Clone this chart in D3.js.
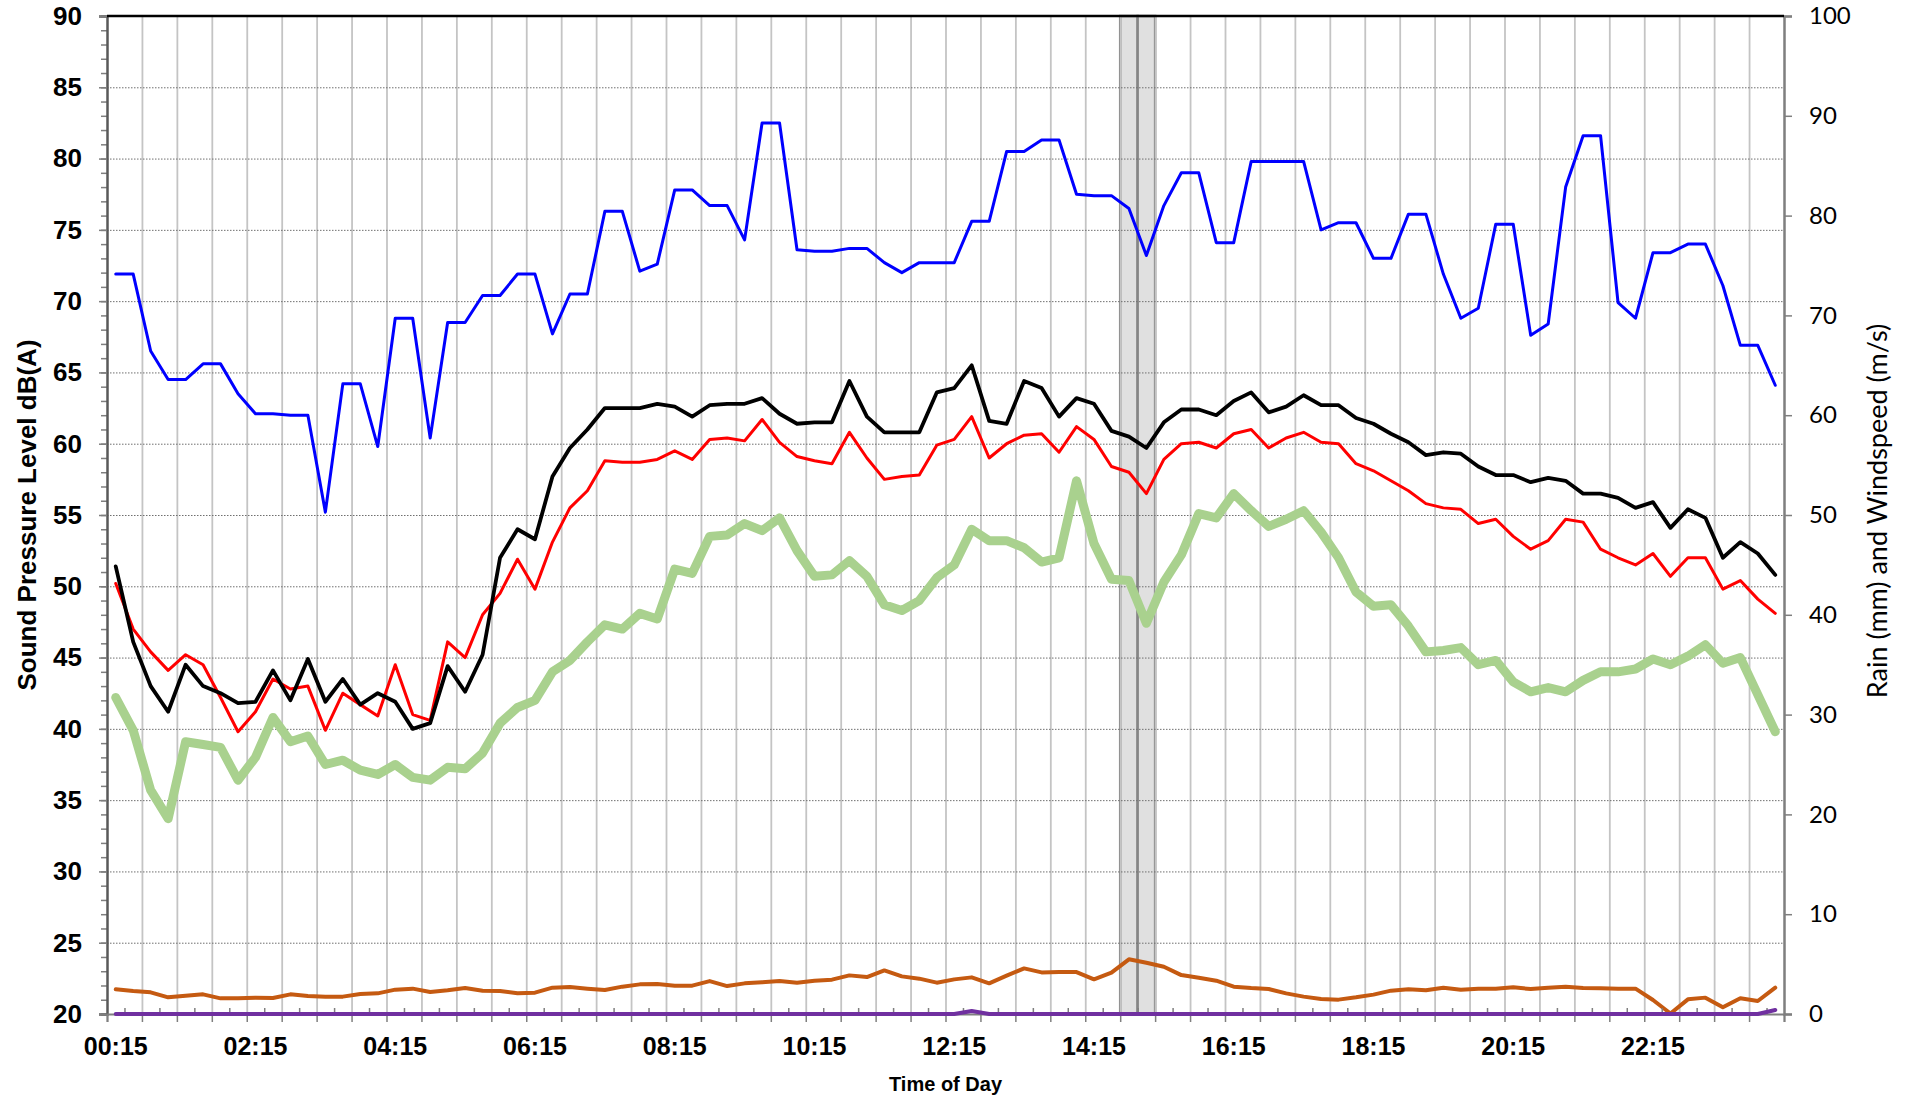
<!DOCTYPE html>
<html>
<head>
<meta charset="utf-8">
<script src="https://cdn.jsdelivr.net/npm/d3@7"></script>
<style>
  body { margin: 0; background: #fff; }
  svg { display: block; }
  .left text, .bottom text { font-family: "Liberation Sans", Arial, sans-serif; font-weight: bold; fill: #000; }
  .right text { font-family: Lato, "Open Sans", sans-serif; fill: #000; }
</style>
</head>
<body>
<div id="chart"></div>
<script>
// 15 minute intervals over one day
var times = ["00:15","00:30","00:45","01:00","01:15","01:30","01:45","02:00",
  "02:15","02:30","02:45","03:00","03:15","03:30","03:45","04:00",
  "04:15","04:30","04:45","05:00","05:15","05:30","05:45","06:00",
  "06:15","06:30","06:45","07:00","07:15","07:30","07:45","08:00",
  "08:15","08:30","08:45","09:00","09:15","09:30","09:45","10:00",
  "10:15","10:30","10:45","11:00","11:15","11:30","11:45","12:00",
  "12:15","12:30","12:45","13:00","13:15","13:30","13:45","14:00",
  "14:15","14:30","14:45","15:00","15:15","15:30","15:45","16:00",
  "16:15","16:30","16:45","17:00","17:15","17:30","17:45","18:00",
  "18:15","18:30","18:45","19:00","19:15","19:30","19:45","20:00",
  "20:15","20:30","20:45","21:00","21:15","21:30","21:45","22:00",
  "22:15","22:30","22:45","23:00","23:15","23:30","23:45","24:00"]

var timeLabels = ["00:15","02:15","04:15","06:15","08:15","10:15","12:15","14:15","16:15","18:15","20:15","22:15"]

// sound levels, dB(A)
var laMax = [71.9,71.9,66.5,64.5,64.5,65.6,65.6,63.5,62.1,62.1,62.0,62.0,55.2,64.2,64.2,59.8,
  68.8,68.8,60.4,68.5,68.5,70.4,70.4,71.9,71.9,67.7,70.5,70.5,76.3,76.3,72.1,72.6,
  77.8,77.8,76.7,76.7,74.3,82.5,82.5,73.6,73.5,73.5,73.7,73.7,72.7,72.0,72.7,72.7,
  72.7,75.6,75.6,80.5,80.5,81.3,81.3,77.5,77.4,77.4,76.5,73.2,76.7,79.0,79.0,74.1,
  74.1,79.8,79.8,79.8,79.8,75.0,75.5,75.5,73.0,73.0,76.1,76.1,71.9,68.8,69.5,75.4,
  75.4,67.6,68.4,78.0,81.6,81.6,69.9,68.8,73.4,73.4,74.0,74.0,71.1,66.9,66.9,64.1]

var laEq = [51.4,46.1,43.0,41.2,44.5,43.0,42.5,41.8,41.9,44.1,42.0,44.9,41.9,43.5,41.7,42.5,
  41.9,40.0,40.4,44.4,42.6,45.2,52.0,54.0,53.3,57.7,59.7,61.0,62.5,62.5,62.5,62.8,
  62.6,61.9,62.7,62.8,62.8,63.2,62.1,61.4,61.5,61.5,64.4,61.9,60.8,60.8,60.8,63.6,
  63.9,65.5,61.6,61.4,64.4,63.9,61.9,63.2,62.8,60.9,60.5,59.7,61.5,62.4,62.4,62.0,
  63.0,63.6,62.2,62.6,63.4,62.7,62.7,61.8,61.4,60.7,60.1,59.2,59.4,59.3,58.4,57.8,
  57.8,57.3,57.6,57.4,56.5,56.5,56.2,55.5,55.9,54.1,55.4,54.8,52.0,53.1,52.3,50.8]

var la10 = [50.2,47.0,45.4,44.1,45.2,44.5,42.2,39.8,41.2,43.5,42.8,43.0,39.9,42.5,41.7,40.9,
  44.5,41.0,40.6,46.1,45.0,48.0,49.5,51.9,49.8,53.1,55.5,56.7,58.8,58.7,58.7,58.9,
  59.5,58.9,60.3,60.4,60.2,61.7,60.1,59.1,58.8,58.6,60.8,59.0,57.5,57.7,57.8,59.9,
  60.3,61.9,59.0,60.0,60.6,60.7,59.4,61.2,60.3,58.4,58.0,56.5,58.9,60.0,60.1,59.7,
  60.7,61.0,59.7,60.4,60.8,60.1,60.0,58.6,58.1,57.4,56.7,55.8,55.5,55.4,54.4,54.7,
  53.5,52.6,53.2,54.7,54.5,52.6,52.0,51.5,52.3,50.7,52.0,52.0,49.8,50.4,49.1,48.1]

var la90 = [42.2,39.9,35.7,33.7,39.1,38.9,38.7,36.4,38.0,40.8,39.1,39.5,37.5,37.8,37.1,36.8,
  37.5,36.6,36.4,37.3,37.2,38.3,40.4,41.5,42.0,44.0,44.8,46.1,47.3,47.0,48.1,47.7,
  51.2,50.9,53.5,53.6,54.4,53.9,54.8,52.5,50.7,50.8,51.8,50.7,48.7,48.3,49.0,50.6,
  51.5,54.0,53.2,53.2,52.7,51.7,52.0,57.4,53.0,50.5,50.4,47.4,50.3,52.2,55.1,54.8,
  56.5,55.3,54.2,54.7,55.3,53.8,52.0,49.6,48.6,48.7,47.2,45.4,45.5,45.7,44.5,44.8,
  43.3,42.6,42.9,42.6,43.4,44.0,44.0,44.2,44.9,44.5,45.1,45.9,44.6,45.0,42.4,39.8]

// weather, right axis
var windSpeed = [2.47,2.30,2.17,1.67,1.84,1.97,1.57,1.57,1.64,1.60,1.97,1.80,1.74,1.74,2.00,2.07,
  2.44,2.54,2.20,2.37,2.60,2.34,2.30,2.07,2.14,2.64,2.70,2.54,2.40,2.74,2.97,3.00,
  2.84,2.84,3.30,2.80,3.07,3.17,3.30,3.14,3.34,3.44,3.87,3.70,4.37,3.77,3.54,3.14,
  3.47,3.67,3.07,3.84,4.57,4.17,4.20,4.20,3.47,4.14,5.48,5.14,4.74,3.90,3.64,3.34,
  2.74,2.60,2.50,2.07,1.74,1.50,1.44,1.67,1.94,2.34,2.47,2.37,2.64,2.44,2.54,2.54,
  2.67,2.50,2.64,2.74,2.60,2.57,2.54,2.54,1.40,0.05,1.47,1.64,0.67,1.57,1.30,2.64]

var rain = [0,0,0,0,0,0,0,0,0,0,0,0,0,0,0,0,
  0,0,0,0,0,0,0,0,0,0,0,0,0,0,0,0,
  0,0,0,0,0,0,0,0,0,0,0,0,0,0,0,0,
  0,0.3,0,0,0,0,0,0,0,0,0,0,0,0,0,0,
  0,0,0,0,0,0,0,0,0,0,0,0,0,0,0,0,
  0,0,0,0,0,0,0,0,0,0,0,0,0,0,0,0.4]

// shaded event period
var eventTimes = ["14:45", "15:00"]
var eventValues = [100, 100]

var svgWidth = 1912
var svgHeight = 1100

var margin = {
    top: 16,
    right: 128,
    left: 107,
    bottom: 86
}

var chartWidth = svgWidth - margin.left - margin.right
var chartHeight = svgHeight - margin.top - margin.bottom

var svg = d3.select("#chart").append("svg").attr("width", svgWidth).attr("height", svgHeight)
    .style("background", "#fff")

var chartGroup = svg.append("g").attr("transform", `translate(${margin.left}, ${margin.top})`)

var xBand = d3.scaleBand().domain(times).range([0, chartWidth]).padding(0)
var xEdge = d3.scaleLinear().domain([0, times.length]).range([0, chartWidth])
var yLeft = d3.scaleLinear().domain([20, 90]).range([chartHeight, 0])
var yRight = d3.scaleLinear().domain([0, 100]).range([chartHeight, 0])

var cx = t => xBand(t) + xBand.bandwidth() / 2

// shaded bars
chartGroup.selectAll(".event")
    .data(eventTimes)
    .enter()
    .append("rect")
    .attr("class", "event")
    .attr("x", d => xBand(d))
    .attr("width", xBand.bandwidth())
    .attr("y", (d, i) => yRight(eventValues[i]))
    .attr("height", (d, i) => chartHeight - yRight(eventValues[i]))
    .attr("fill", "#e0e0e0")
    .attr("stroke", "#858585")
    .attr("stroke-width", 2.5)

// vertical grid every 30 min
var vGrid = chartGroup.append("g")
    .attr("transform", `translate(0, ${chartHeight})`)
    .call(d3.axisBottom(xEdge).tickValues(d3.range(2, times.length, 2)).tickSize(chartHeight).tickFormat(""))
vGrid.select(".domain").remove()
vGrid.selectAll("line").attr("y2", -chartHeight).attr("stroke", "#c4c4c4").attr("stroke-width", 1.8)

// horizontal dotted grid
var hGrid = chartGroup.append("g")
    .call(d3.axisLeft(yLeft).tickValues(d3.range(25, 90, 5)).tickSize(-chartWidth).tickFormat(""))
hGrid.select(".domain").remove()
hGrid.selectAll("line").attr("stroke", "#6f6f6f").attr("stroke-width", 1).attr("stroke-dasharray", "1.5,1.5")

// series
function drawLine(values, scale, color, width) {
    var line = d3.line()
        .x((d, i) => cx(times[i]))
        .y(d => scale(d))
    chartGroup.append("path")
        .datum(values)
        .attr("d", line)
        .attr("fill", "none")
        .attr("stroke", color)
        .attr("stroke-width", width)
        .attr("stroke-linejoin", "round")
        .attr("stroke-linecap", "round")
}

drawLine(laMax, yLeft, "#0000ff", 3)
drawLine(la90, yLeft, "#a9d18e", 9)
drawLine(la10, yLeft, "#ff0000", 3)
drawLine(laEq, yLeft, "#000000", 3.8)
drawLine(windSpeed, yRight, "#c55a11", 4)

// left axis
var leftMinor = chartGroup.append("g").attr("class", "left")
    .call(d3.axisLeft(yLeft).tickValues(d3.range(20, 91, 1)).tickSize(6).tickFormat(""))
leftMinor.select(".domain").remove()
leftMinor.selectAll("line").attr("stroke", "#7f7f7f").attr("stroke-width", 1.5)

var leftAxis = chartGroup.append("g").attr("class", "left")
    .call(d3.axisLeft(yLeft).tickValues(d3.range(20, 91, 5)).tickSize(8).tickPadding(17))
leftAxis.select(".domain").attr("stroke", "#595959").attr("stroke-width", 2.5)
leftAxis.selectAll("line").attr("stroke", "#7f7f7f").attr("stroke-width", 1.5)
leftAxis.selectAll("text").attr("font-size", "26px")

// bottom axis ticks
var bottomMinor = chartGroup.append("g")
    .attr("transform", `translate(0, ${chartHeight})`)
    .call(d3.axisBottom(xEdge).tickValues(d3.range(1, times.length, 2)).tickSize(-6).tickFormat(""))
bottomMinor.select(".domain").remove()
bottomMinor.selectAll("line").attr("stroke", "#7f7f7f").attr("stroke-width", 1.5)

var bottomMajor = chartGroup.append("g")
    .attr("transform", `translate(0, ${chartHeight})`)
    .call(d3.axisBottom(xEdge).tickValues(d3.range(0, times.length + 1, 2)).tickSize(8).tickFormat(""))
bottomMajor.select(".domain").attr("stroke", "#7f7f7f").attr("stroke-width", 2)
bottomMajor.selectAll("line").attr("stroke", "#7f7f7f").attr("stroke-width", 1.5)

var bottomAxis = chartGroup.append("g").attr("class", "bottom")
    .attr("transform", `translate(0, ${chartHeight})`)
    .call(d3.axisBottom(xBand).tickValues(timeLabels).tickSize(0).tickPadding(23))
bottomAxis.select(".domain").remove()
bottomAxis.selectAll("text").attr("font-size", "25px")

// right axis
var rightAxis = chartGroup.append("g").attr("class", "right")
    .attr("transform", `translate(${chartWidth}, 0)`)
    .call(d3.axisRight(yRight).tickValues(d3.range(0, 101, 10)).tickSize(8).tickPadding(17))
rightAxis.select(".domain").attr("stroke", "#7f7f7f").attr("stroke-width", 2.5)
rightAxis.selectAll("line").attr("stroke", "#7f7f7f").attr("stroke-width", 1.5)
rightAxis.selectAll("text").attr("font-size", "24px")

// top border
chartGroup.append("line")
    .attr("x1", 0).attr("x2", chartWidth)
    .attr("y1", 0).attr("y2", 0)
    .attr("stroke", "#000").attr("stroke-width", 2.5)

// rain sits on the axis
drawLine(rain, yRight, "#7030a0", 4)

// axis titles
chartGroup.append("text")
    .attr("transform", `translate(${27 - margin.left}, ${chartHeight / 2}) rotate(-90)`)
    .attr("text-anchor", "middle")
    .attr("dy", "0.35em")
    .attr("font-family", "Liberation Sans, Arial, sans-serif")
    .attr("font-weight", "bold")
    .attr("font-size", "26px")
    .text("Sound Pressure Level dB(A)")

chartGroup.append("text")
    .attr("transform", `translate(${chartWidth + 94}, ${chartHeight / 2 - 4}) rotate(-90)`)
    .attr("text-anchor", "middle")
    .attr("dy", "0.35em")
    .attr("font-family", "Lato, Open Sans, sans-serif")
    .attr("font-size", "27px")
    .text("Rain (mm) and Windspeed (m/s)")

chartGroup.append("text")
    .attr("x", chartWidth / 2)
    .attr("y", chartHeight + 77)
    .attr("text-anchor", "middle")
    .attr("font-family", "Liberation Sans, Arial, sans-serif")
    .attr("font-weight", "bold")
    .attr("font-size", "20px")
    .text("Time of Day")
</script>
</body>
</html>
